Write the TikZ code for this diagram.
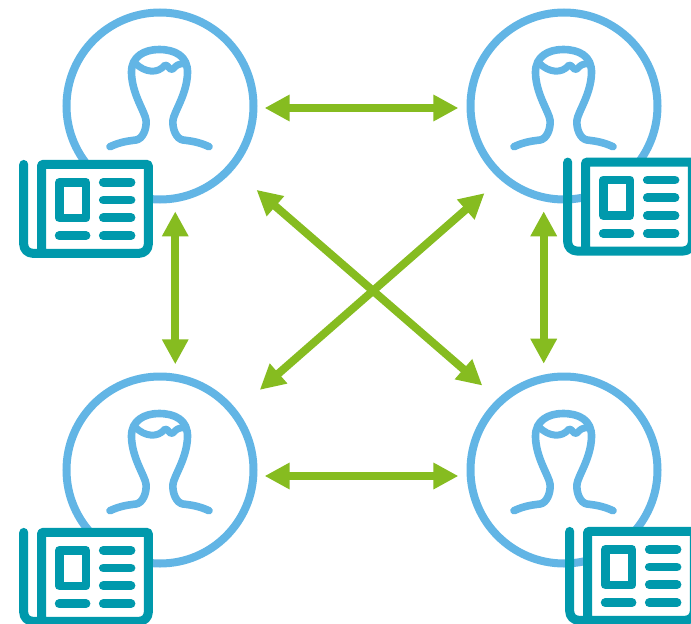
\documentclass[tikz,border=0pt]{standalone}
\usepackage{tikz}
\usetikzlibrary{arrows.meta}

\definecolor{ringblue}{HTML}{62B5E5}
\definecolor{papercyan}{HTML}{0099AC}
\definecolor{linkgreen}{HTML}{86BC20}

\tikzset{
    reader/.style={draw=ringblue, line width=8pt, circle, minimum size=187pt, inner sep=0pt},
    link/.style={draw=linkgreen, line width=8pt, {Triangle[length=25pt, width=25pt, sep=0.6pt]}-{Triangle[length=25pt, width=25pt, sep=0.6pt]}},
    bust/.pic={
        \draw[ringblue, line width=7.6pt, line cap=round, line join=round]
            (-50, 40.7) .. controls (-40, 36) and (-32, 35) .. (-24, 34)
            .. controls (-17, 33) and (-13, 22) .. (-14, 14)
            .. controls (-15, 6) and (-28, -12) .. (-28.5, -33)
            .. controls (-29, -50) and (-15, -56.5) .. (-1, -56.5)
            .. controls (15, -56.5) and (28, -50) .. (27.5, -33)
            .. controls (27, -12) and (14, 6) .. (13, 14)
            .. controls (12, 22) and (16, 33) .. (23, 34)
            .. controls (31, 35) and (39, 36) .. (49, 40.7);
        \draw[ringblue, line width=7pt, line cap=round, line join=round]
            (-25, -43) .. controls (-15, -33) and (-2, -32) .. (5, -41)
            .. controls (8, -42) and (10, -34) .. (13, -37)
            .. controls (16, -40) and (18, -43) .. (25, -42);
    },
    paper/.pic={
        \fill[white] (22, 4) rectangle (129, 93);
        \draw[papercyan, line width=9pt, line cap=round, line join=round]
            (4.4, 4.4) [rounded corners=9pt] -- (4.4, 93.3) -- (129, 93.3)
            [rounded corners=1pt] -- (129, 4.4) -- (22.2, 4.4) -- (22.2, 93);
        \draw[papercyan, line width=8.8pt, line join=round] (39.9, 22.3) rectangle (66.7, 58);
        \draw[papercyan, line width=8.8pt, line cap=round] (84, 22.3) -- (111.7, 22.3);
        \draw[papercyan, line width=8.8pt, line cap=round] (84, 40) -- (111.7, 40);
        \draw[papercyan, line width=8.8pt, line cap=round] (84, 57.7) -- (111.7, 57.7);
        \draw[papercyan, line width=8.8pt, line cap=round] (84, 75.7) -- (111.7, 75.7);
        \draw[papercyan, line width=8.8pt, line cap=round] (39.9, 75.7) -- (66.7, 75.7);
    }
}

\begin{document}
\begin{tikzpicture}[x=1pt, y=-1pt]
    \useasboundingbox (0, 0) rectangle (691, 624);
    \clip (0, 0) rectangle (691, 624);

    \node[reader] (topleft) at (160, 106) {};
    \node[reader] (topright) at (564, 106) {};
    \node[reader] (bottomleft) at (160, 470) {};
    \node[reader] (bottomright) at (564, 470) {};

    \pic at (160, 106) {bust};
    \pic at (564, 106) {bust};
    \pic at (160, 470) {bust};
    \pic at (564, 470) {bust};

    \pic at (19.3, 160) {paper};
    \pic at (563.3, 157.7) {paper};
    \pic at (19.3, 528) {paper};
    \pic at (565.3, 527) {paper};

    \draw[link, shorten <=6.5pt, shorten >=7.5pt] ([yshift=-2pt]topleft.east) -- ([yshift=-2pt]topright.west);
    \draw[link, shorten <=6.5pt, shorten >=7.5pt] ([yshift=-6pt]bottomleft.east) -- ([yshift=-6pt]bottomright.west);

    \draw[link, shorten <=8.5pt, shorten >=8.8pt] (topleft.-81) -- (bottomleft.81);
    \draw[link, shorten <=9.3pt, shorten >=10.3pt] (topright.-102) -- (bottomright.102);

    \draw[link, shorten <=29.8pt, shorten >=19.5pt] (topleft.-41) -- (bottomright.133);
    \draw[link, shorten <=20pt, shorten >=29.9pt] (topright.-131) -- (bottomleft.38.7);
\end{tikzpicture}
\end{document}
